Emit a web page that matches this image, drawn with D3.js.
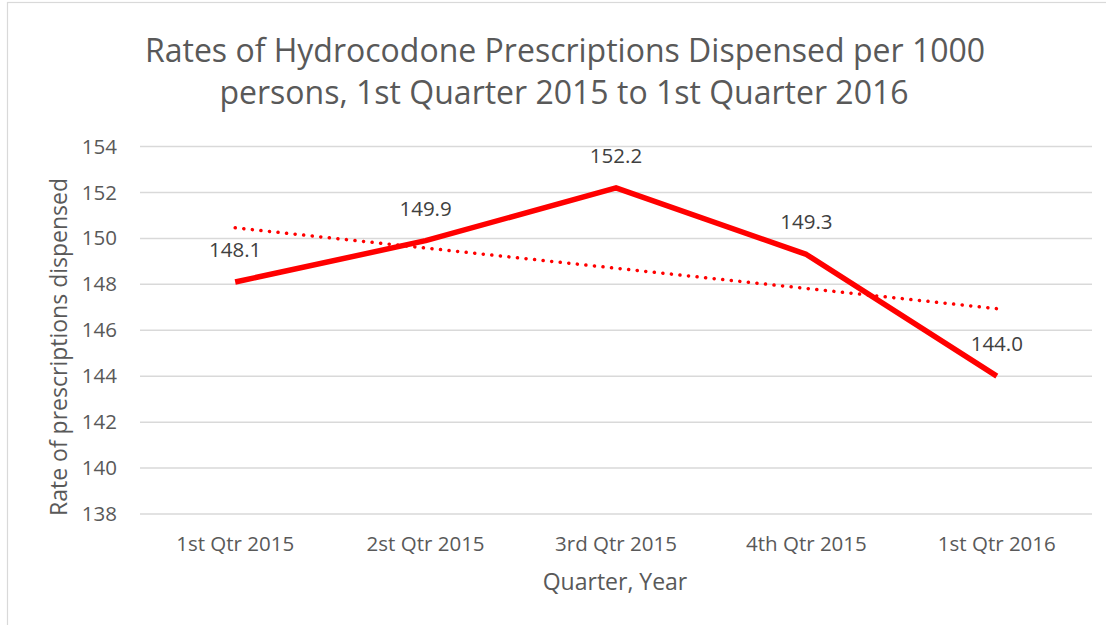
<!DOCTYPE html>
<html>
<head>
<meta charset="utf-8">
<script src="https://cdn.jsdelivr.net/npm/d3@7"></script>
<style>
  body { margin: 0; background: #fff; }
  text { font-family: "Open Sans", "Noto Sans", sans-serif; }
</style>
</head>
<body>
<div id="chart"></div>
<script>
//data
var quarters = ["1st Qtr 2015", "2st Qtr 2015", "3rd Qtr 2015", "4th Qtr 2015", "1st Qtr 2016"];
var rates = [148.1, 149.9, 152.2, 149.3, 144.0];
var trendEnds = [150.46, 146.94]; //linear trendline at first and last quarter
var yTicks = [138, 140, 142, 144, 146, 148, 150, 152, 154];

var width = 1106, height = 625;
var margin = {top: 146.5, right: 14, bottom: 111, left: 140};
var innerW = width - margin.left - margin.right,
    innerH = height - margin.top - margin.bottom;

var svg = d3.select("#chart").append("svg")
    .attr("width", width)
    .attr("height", height);

//outer border
svg.append("rect")
    .attr("x", 7.5).attr("y", 2.5)
    .attr("width", 1300).attr("height", 1000)
    .attr("fill", "none")
    .attr("stroke", "#d9d9d9")
    .attr("stroke-width", 1.2);

var g = svg.append("g")
    .attr("transform", "translate(" + margin.left + "," + margin.top + ")");

//scales
var x = d3.scaleBand()
    .domain(quarters)
    .range([0, innerW]);

var y = d3.scaleLinear()
    .domain([138, 154])
    .range([innerH, 0]);

function cx(d) { return x(d) + x.bandwidth() / 2; }

//gridlines
g.append("g")
    .selectAll("line")
    .data(yTicks)
  .enter().append("line")
    .attr("x1", 0).attr("x2", innerW)
    .attr("y1", function(d) { return y(d); })
    .attr("y2", function(d) { return y(d); })
    .attr("stroke", "#d9d9d9")
    .attr("stroke-width", 1.5);

//y axis
var yAxis = g.append("g")
    .call(d3.axisLeft(y).tickValues(yTicks).tickSize(0).tickPadding(23));
yAxis.select(".domain").remove();
yAxis.selectAll("text")
    .attr("fill", "#595959")
    .attr("font-size", 20.5)
    .style("font-family", "'Open Sans', sans-serif");

//x axis
var xAxis = g.append("g")
    .attr("transform", "translate(0," + innerH + ")")
    .call(d3.axisBottom(x).tickSize(0).tickPadding(22));
xAxis.select(".domain").remove();
xAxis.selectAll("text")
    .attr("fill", "#595959")
    .attr("font-size", 20.5)
    .style("font-family", "'Open Sans', sans-serif");

//trendline
g.append("line")
    .attr("x1", cx(quarters[0]))
    .attr("x2", cx(quarters[quarters.length - 1]))
    .attr("y1", y(trendEnds[0]))
    .attr("y2", y(trendEnds[1]))
    .attr("stroke", "#ff0000")
    .attr("stroke-width", 3.5)
    .attr("stroke-linecap", "round")
    .attr("stroke-dasharray", "0.1 8.5");

//main line
var line = d3.line()
    .x(function(d, i) { return cx(quarters[i]); })
    .y(function(d) { return y(d); });

g.append("path")
    .datum(rates)
    .attr("fill", "none")
    .attr("stroke", "#ff0000")
    .attr("stroke-width", 5.5)
    .attr("stroke-linejoin", "round")
    .attr("d", line);

//data labels
g.selectAll(".label")
    .data(rates)
  .enter().append("text")
    .attr("class", "label")
    .attr("x", function(d, i) { return cx(quarters[i]); })
    .attr("y", function(d) { return y(d) - 25; })
    .attr("text-anchor", "middle")
    .attr("fill", "#404040")
    .attr("font-size", 20.5)
    .text(function(d) { return d.toFixed(1); });

//title
var title = svg.append("text")
    .attr("x", 565)
    .attr("y", 62)
    .attr("text-anchor", "middle")
    .attr("fill", "#595959")
    .attr("font-size", 32);
title.append("tspan").attr("x", 565).text("Rates of Hydrocodone Prescriptions Dispensed per 1000");
title.append("tspan").attr("x", 564).attr("dy", 42).text("persons, 1st Quarter 2015 to 1st Quarter 2016");

//axis titles
svg.append("text")
    .attr("x", 615)
    .attr("y", 590)
    .attr("text-anchor", "middle")
    .attr("fill", "#595959")
    .attr("font-size", 23)
    .text("Quarter, Year");

svg.append("text")
    .attr("transform", "translate(67," + 347 + ") rotate(-90)")
    .attr("text-anchor", "middle")
    .attr("fill", "#595959")
    .attr("font-size", 23)
    .text("Rate of prescriptions dispensed");
</script>
</body>
</html>
